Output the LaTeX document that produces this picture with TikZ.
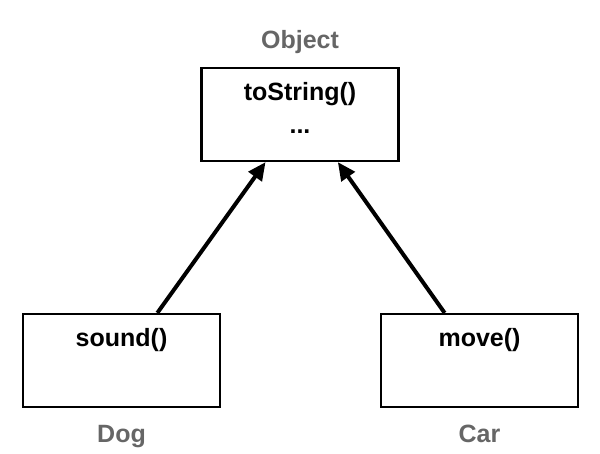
\documentclass[tikz,border=0pt]{standalone}
\usepackage{fontspec}
\setmainfont{Liberation Sans}
\usepackage{tikz}
\usetikzlibrary{calc,arrows.meta,positioning}
\tikzset{
  cls/.style={draw,line width=2.2pt,minimum width=197pt,minimum height=93pt,inner sep=0pt},
  meth/.style={anchor=base,font=\bfseries\fontsize{25}{29}\selectfont,text=black},
  clsname/.style={anchor=base,font=\bfseries\fontsize{25}{29}\selectfont,text=black!60},
  every node/.style={font=\small}
}
\tikzstyle{arrow} = [line width=4pt,-{Triangle[length=18pt,width=16pt]}]

\begin{document}
\begin{tikzpicture}[x=1pt,y=-1pt]
  \useasboundingbox (0,0) rectangle (600,453);
  % classes
  \node[cls] (obj) at (300,114.5) {};
  \node[cls] (dog) at (121.5,360.5) {};
  \node[cls] (car) at (479.5,360.5) {};
  % class names
  \node[clsname] (objname) at (300,48) {Object};
  \node[clsname] (dogname) at (121.5,442) {Dog};
  \node[clsname] (carname) at (479.5,442) {Car};
  % methods
  \node[meth] (tostr) at (300,100) {toString()};
  \node[meth] (dots) at (300,133) {...};
  \node[meth] (sound) at (121.5,346) {sound()};
  \node[meth] (move) at (479.5,346) {move()};
  % inheritance
  \draw[arrow] ($(dog.north west)!0.68!(dog.north east)$)
    -- ($(obj.south west)!0.327!(obj.south east)$);
  \draw[arrow] ($(car.north west)!0.325!(car.north east)$)
    -- ($(obj.south west)!0.69!(obj.south east)$);
\end{tikzpicture}
\end{document}
